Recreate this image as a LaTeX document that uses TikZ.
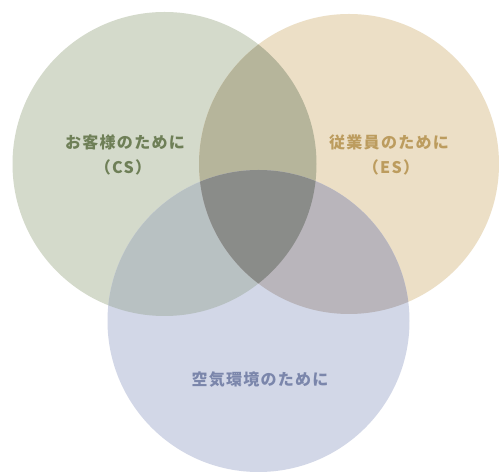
\documentclass[tikz,border=0pt]{standalone}
\usepackage{fontspec}
\newfontfamily\jp[LetterSpace=8]{Noto Sans CJK JP}
\definecolor{cA}{HTML}{D4DACB}
\definecolor{cB}{HTML}{ECDFC6}
\definecolor{cC}{HTML}{D2D7E7}
\definecolor{cAB}{HTML}{B6B59B}
\definecolor{cAC}{HTML}{B8C1C2}
\definecolor{cBC}{HTML}{B9B5BB}
\definecolor{cABC}{HTML}{8A8C89}
\definecolor{tA}{HTML}{6E7F57}
\definecolor{tB}{HTML}{BC9C5E}
\definecolor{tC}{HTML}{7B86AB}
\tikzset{lbl/.style={font=\jp\bfseries\fontsize{16}{20}\selectfont, align=center, inner sep=0pt}}
\begin{document}
\begin{tikzpicture}[x=1pt,y=1pt]
\fill[white] (0,0) rectangle (499,473);
\useasboundingbox (0,0) rectangle (499,473);
\coordinate (A) at (164.5,309);
\coordinate (B) at (349,309);
\coordinate (C) at (258.5,152);
\def\rA{152}\def\rB{150}\def\rC{151}
\fill[cA] (A) circle (\rA);
\fill[cB] (B) circle (\rB);
\fill[cC] (C) circle (\rC);
\begin{scope}\clip (A) circle (\rA); \fill[cAB] (B) circle (\rB);\end{scope}
\begin{scope}\clip (A) circle (\rA); \fill[cAC] (C) circle (\rC);\end{scope}
\begin{scope}\clip (B) circle (\rB); \fill[cBC] (C) circle (\rC);\end{scope}
\begin{scope}\clip (A) circle (\rA); \clip (B) circle (\rB); \fill[cABC] (C) circle (\rC);\end{scope}
\node[lbl, text=tA] (la) at (125,331) {お客様のために};
\node[lbl, text=tA] (la2) at (123,306) {（CS）};
\node[lbl, text=tB] (lb) at (389,331) {従業員のために};
\node[lbl, text=tB] (lb2) at (391,306) {（ES）};
\node[lbl, text=tC] (lc) at (260,93) {空気環境のために};
\end{tikzpicture}
\end{document}
